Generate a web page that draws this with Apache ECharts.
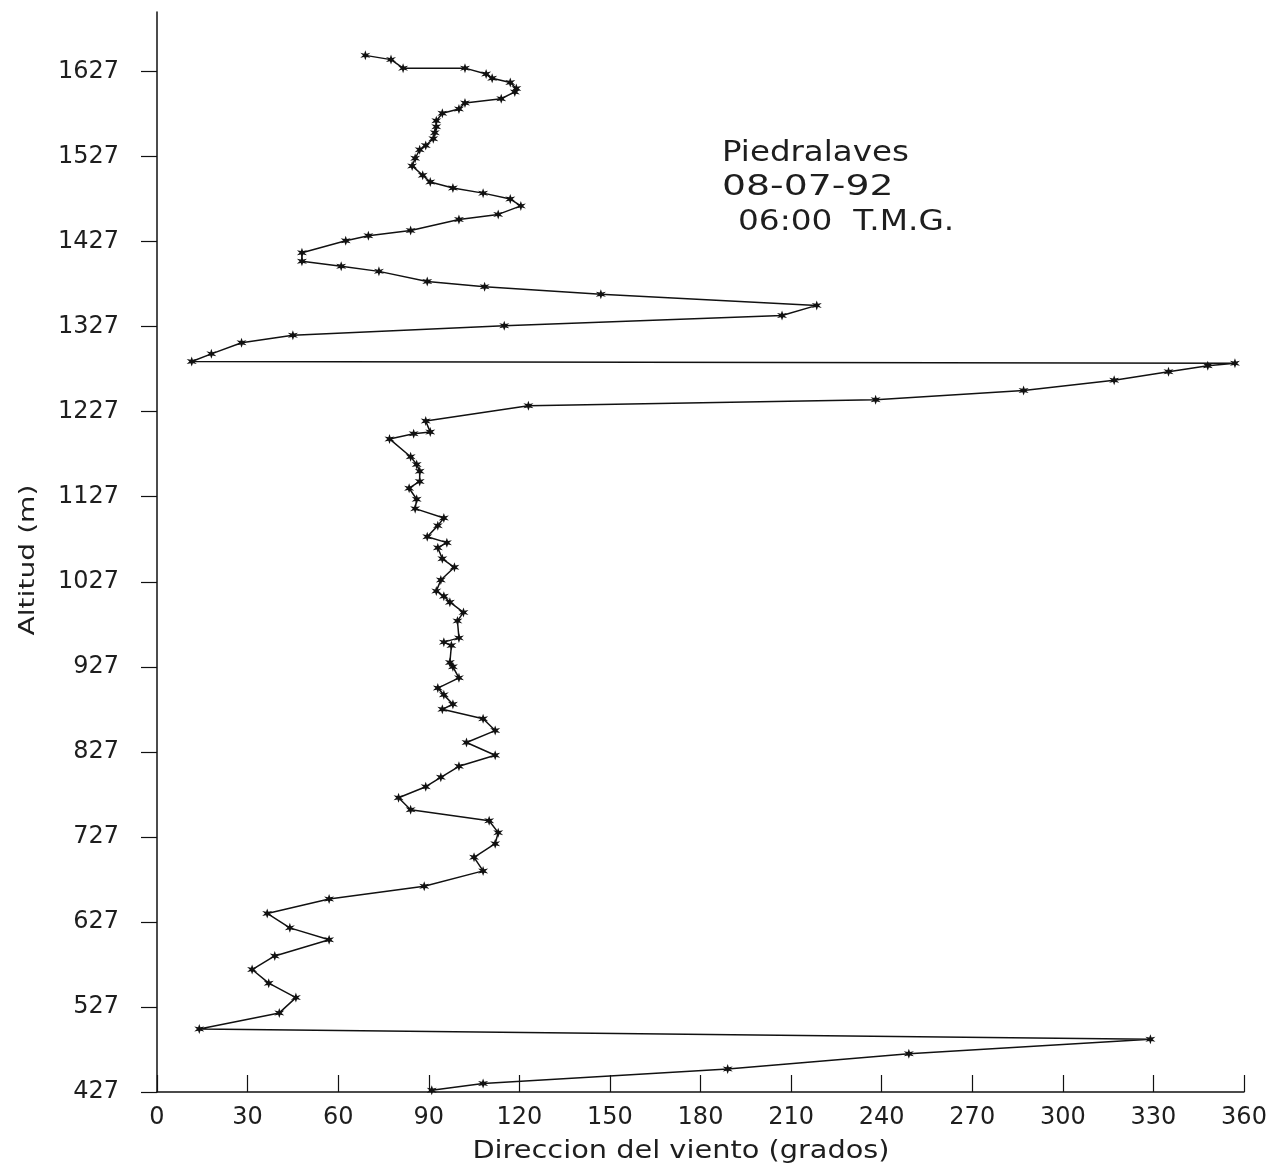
<!DOCTYPE html>
<html>
<head>
<meta charset="utf-8">
<script src="https://cdn.jsdelivr.net/npm/echarts@6/dist/echarts.min.js"></script>
<style>
  html, body { margin: 0; padding: 0; background: #ffffff; }
  #chart { width: 1274px; height: 1167px; }
</style>
</head>
<body>
<div id="chart"></div>
<script>
// Wind direction (degrees) at each sounding level, bottom to top
const direction = [
  91, 108, 189, 249, 329, 14, 40.5, 46, 37, 31.5,
  39, 57, 44, 36.5, 57, 88.5, 108, 105, 112, 113,
  110, 84, 80, 89, 94, 100, 112, 102.5, 112, 108,
  94.5, 98, 95, 93, 100, 98, 97, 97.5, 95, 100,
  99.5, 101.5, 97, 95, 92.5, 94, 98.5, 94.5, 93, 96,
  89.5, 93, 95, 85.5, 86, 83.5, 87, 87, 86, 84,
  77, 85, 90.5, 89, 123, 238, 287, 317, 335, 348,
  357, 11.5, 18, 28, 45, 115, 207, 218.5, 147, 108.5,
  89.5, 73.5, 61, 48, 48, 62.5, 70, 84, 100, 113,
  120.5, 117, 108, 98, 90.5, 88, 84.5, 85.5, 87, 89,
  91.5, 92, 92.5, 92.5, 94.5, 100, 102, 114, 118.5, 119,
  117, 111, 109, 102, 81.5, 77.5, 69
];
// Altitude (m) of each level
const altitude = [
  429, 437, 454, 472, 489, 501, 520, 538, 555, 571,
  587, 606, 620, 637, 654, 669, 687, 703, 719, 732,
  746, 759, 773, 786, 797, 810, 823, 838, 852, 866,
  877, 883, 894, 902, 914, 927, 932, 952, 956, 961,
  981, 991, 1003, 1010, 1016, 1029, 1044, 1054, 1067, 1073,
  1080, 1093, 1102, 1113, 1124, 1137, 1145, 1157, 1165, 1174,
  1195, 1201, 1203, 1216, 1234, 1241, 1252, 1264, 1274, 1281,
  1284, 1286, 1295, 1308, 1317, 1328, 1340, 1352, 1365, 1374,
  1380, 1392, 1398, 1404, 1414, 1428, 1434, 1440, 1453, 1459,
  1469, 1477, 1484, 1490, 1497, 1505, 1516, 1525, 1535, 1540,
  1548, 1555, 1562, 1569, 1578, 1583, 1590, 1595, 1603, 1607,
  1614, 1619, 1624, 1631, 1631, 1641, 1646
];
const altitudeTicks = [427, 527, 627, 727, 827, 927, 1027, 1127, 1227, 1327, 1427, 1527, 1627];
const titleLines = ['Piedralaves', '08-07-92', '06:00  T.M.G.'];
const xAxisTitle = 'Direccion del viento (grados)';
const yAxisTitle = 'Altitud (m)';

const points = direction.map((d, i) => [d, altitude[i]]);

const FONT = '"DejaVu Sans", sans-serif';
const TXT = '#1e1e1e';

function label(text, x, y, size, sx) {
  return {
    type: 'text',
    x: x, y: y,
    scaleX: sx,
    silent: true,
    style: {
      text: text,
      fontFamily: FONT,
      fontSize: size,
      fill: TXT,
      textAlign: 'left',
      textVerticalAlign: 'middle'
    }
  };
}

const chart = echarts.init(document.getElementById('chart'), null, { renderer: 'canvas' });
chart.setOption({
  animation: false,
  backgroundColor: '#ffffff',
  graphic: [
    label(titleLines[0], 722, 154, 28, 1.16),
    label(titleLines[1], 722, 188, 28, 1.35),
    label(titleLines[2], 738, 223, 28, 1.17),
    {
      type: 'text', x: 681, y: 1152, scaleX: 1.2, silent: true,
      style: { text: xAxisTitle, fontFamily: FONT, fontSize: 24, fill: TXT,
               textAlign: 'center', textVerticalAlign: 'middle' }
    },
    {
      type: 'text', x: 28, y: 560, rotation: Math.PI / 2, scaleX: 1.28, silent: true,
      style: { text: yAxisTitle, fontFamily: FONT, fontSize: 22, fill: TXT,
               textAlign: 'center', textVerticalAlign: 'middle' }
    }
  ],
  grid: { left: 157, right: 30, top: 12, bottom: 75, containLabel: false },
  xAxis: {
    type: 'value',
    min: 0,
    max: 360,
    interval: 30,
    axisLine: { show: true, onZero: false, lineStyle: { color: '#111', width: 1.5 } },
    axisTick: { show: true, inside: true, length: 17, lineStyle: { color: '#111', width: 1.2 } },
    axisLabel: { fontFamily: FONT, fontSize: 24, color: TXT, margin: 14 },
    splitLine: { show: false }
  },
  yAxis: {
    type: 'value',
    min: 427,
    max: 1697,
    axisLine: { show: true, onZero: false, lineStyle: { color: '#111', width: 1.5 } },
    axisTick: { show: true, inside: false, length: 16, customValues: altitudeTicks, lineStyle: { color: '#111', width: 1.2 } },
    axisLabel: { fontFamily: FONT, fontSize: 24, color: TXT, margin: 38, customValues: altitudeTicks,
                 formatter: v => String(v) },
    splitLine: { show: false }
  },
  series: [{
    type: 'line',
    data: points,
    symbol: 'path://M5,0L6,3.27L9.33,2.5L7,5L9.33,7.5L6,6.73L5,10L4,6.73L0.67,7.5L3,5L0.67,2.5L4,3.27Z',
    symbolSize: 10,
    showAllSymbol: true,
    itemStyle: { color: '#111' },
    lineStyle: { color: '#111', width: 1.5 },
    silent: true
  }]
});
</script>
</body>
</html>
